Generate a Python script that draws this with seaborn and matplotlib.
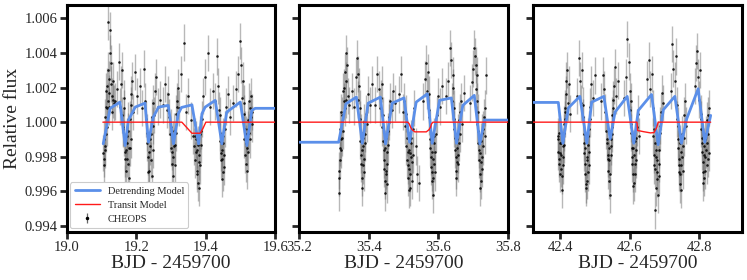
import matplotlib
matplotlib.use("Agg")
import matplotlib.pyplot as plt
import numpy as np
import pandas as pd
import seaborn as sns
from matplotlib.ticker import FormatStrFormatter
from matplotlib.lines import Line2D

# ---------------- data ----------------
# Panel 1 : CHEOPS visit 1
t1 = [19.105, 19.107, 19.108, 19.110, 19.111, 19.113, 19.114, 19.116, 19.117, 19.119, 19.120, 19.122, 19.123, 19.125, 19.127, 19.129, 19.131, 19.133, 19.136,
      19.140, 19.146, 19.150, 19.153, 19.156, 19.158, 19.160, 19.162, 19.164, 19.166, 19.168, 19.170, 19.172, 19.174, 19.176, 19.178, 19.180, 19.182, 19.184, 19.186, 19.188, 19.192, 19.197,
      19.203, 19.210, 19.216, 19.222, 19.226, 19.229, 19.232, 19.235, 19.237, 19.239, 19.241, 19.243, 19.245, 19.247, 19.249, 19.251, 19.254, 19.258, 19.262, 19.268,
      19.276, 19.282, 19.288, 19.292, 19.295, 19.298, 19.301, 19.303, 19.305, 19.307, 19.309, 19.311, 19.313, 19.316, 19.319, 19.323, 19.330, 19.336,
      19.342, 19.350, 19.357, 19.362, 19.366, 19.369, 19.372, 19.374, 19.376, 19.378, 19.380, 19.382, 19.384, 19.386, 19.389, 19.393, 19.398, 19.405, 19.412, 19.420,
      19.426, 19.431, 19.435, 19.438, 19.441, 19.443, 19.445, 19.447, 19.449, 19.451, 19.454, 19.458, 19.463, 19.470, 19.478,
      19.486, 19.492, 19.497, 19.501, 19.504, 19.507, 19.510, 19.512, 19.514, 19.516, 19.518, 19.520, 19.522, 19.524, 19.526, 19.528, 19.530, 19.532, 19.534,
      19.106, 19.109, 19.112, 19.115, 19.118, 19.121, 19.124, 19.128, 19.132,
      19.163, 19.165, 19.167, 19.169, 19.171, 19.173, 19.175, 19.177, 19.181, 19.185,
      19.231, 19.234, 19.236, 19.238, 19.240, 19.244, 19.248,
      19.300, 19.304, 19.306, 19.308, 19.310, 19.314, 19.318,
      19.370, 19.373, 19.375, 19.377, 19.379, 19.381, 19.385,
      19.440, 19.442, 19.444, 19.446, 19.448, 19.450, 19.452,
      19.509, 19.511, 19.513, 19.515, 19.517, 19.519, 19.521, 19.525, 19.529]
f1 = [0.9982, 0.9979, 0.9990, 0.9984, 1.0003, 0.9993, 1.0018, 1.0008, 1.0021, 1.0012, 1.0058, 1.0017, 1.0009, 1.0053, 1.0034, 1.0015, 1.0006, 1.0024, 1.0011,
      1.0012, 1.0019, 1.0035, 1.0009, 1.0022, 1.0030, 1.0004, 0.9996, 1.0014, 0.9991, 0.9983, 0.9972, 0.9988, 0.9979, 0.9995, 0.9985, 0.9968, 1.0002, 0.9990, 1.0010, 1.0024, 1.0006, 1.0029,
      1.0015, 1.0021, 1.0008, 1.0031, 1.0012, 1.0002, 0.9994, 0.9980, 0.9972, 0.9986, 0.9978, 0.9993, 0.9969, 0.9998, 1.0011, 1.0004, 1.0018, 1.0026, 1.0009, 1.0013,
      1.0010, 1.0022, 1.0007, 1.0016, 1.0003, 0.9993, 0.9985, 0.9976, 0.9990, 0.9980, 0.9995, 0.9987, 1.0005, 1.0012, 1.0020, 1.0008, 1.0028, 1.0046,
      1.0006, 1.0015, 1.0001, 0.9992, 0.9986, 0.9978, 0.9990, 0.9972, 0.9984, 0.9965, 0.9981, 0.9975, 0.9993, 0.9987, 1.0002, 1.0015, 1.0026, 1.0040, 1.0009, 1.0018,
      1.0012, 1.0038, 1.0021, 1.0007, 0.9994, 0.9982, 0.9967, 0.9979, 0.9988, 0.9974, 0.9996, 1.0009, 1.0016, 1.0003, 1.0011,
      1.0019, 1.0028, 1.0047, 1.0033, 1.0014, 1.0024, 1.0005, 0.9996, 0.9988, 0.9976, 0.9992, 0.9983, 1.0001, 0.9994, 1.0008, 0.9990, 1.0015, 0.9999, 1.0006,
      0.9975, 0.9986, 1.0009, 0.9997, 1.0030, 1.0025, 1.0040, 1.0022, 1.0013,
      0.9997, 1.0008, 0.9979, 0.9965, 0.9984, 0.9992, 0.9976, 1.0001, 0.9985, 1.0016,
      0.9988, 0.9971, 0.9983, 0.9963, 0.9990, 1.0003, 0.9984,
      0.9997, 0.9983, 0.9969, 0.9986, 0.9975, 0.9994, 1.0009,
      0.9992, 0.9983, 0.9970, 0.9987, 0.9977, 0.9962, 0.9995,
      1.0004, 0.9989, 0.9978, 0.9984, 0.9971, 0.9992, 0.9981,
      1.0011, 0.9990, 0.9981, 0.9993, 0.9985, 0.9972, 0.9996, 1.0012, 1.0003]

# Panel 2 : CHEOPS visit 2
t2 = [35.313, 35.315, 35.317, 35.319, 35.321, 35.323, 35.325, 35.327, 35.329, 35.331, 35.333, 35.335, 35.337, 35.340, 35.344,
      35.352, 35.358, 35.363, 35.367, 35.370, 35.372, 35.374, 35.376, 35.378, 35.380, 35.382, 35.384, 35.386, 35.388, 35.391, 35.394, 35.398, 35.403, 35.409,
      35.418, 35.424, 35.429, 35.433, 35.436, 35.439, 35.441, 35.443, 35.445, 35.447, 35.449, 35.451, 35.453, 35.455, 35.458, 35.461, 35.465, 35.470, 35.476,
      35.487, 35.493, 35.498, 35.502, 35.505, 35.508, 35.510, 35.512, 35.514, 35.516, 35.518, 35.520, 35.522, 35.524, 35.527, 35.530, 35.534, 35.539, 35.544,
      35.555, 35.560, 35.564, 35.567, 35.570, 35.573, 35.575, 35.577, 35.579, 35.581, 35.583, 35.585, 35.587, 35.589, 35.592, 35.595, 35.599, 35.604, 35.610,
      35.622, 35.628, 35.633, 35.637, 35.640, 35.643, 35.645, 35.647, 35.649, 35.651, 35.653, 35.655, 35.657, 35.659, 35.662, 35.665, 35.669, 35.674,
      35.690, 35.695, 35.699, 35.703, 35.706, 35.709, 35.711, 35.713, 35.715, 35.717, 35.719, 35.721, 35.723, 35.725, 35.727, 35.729, 35.731, 35.733, 35.735, 35.737,
      35.314, 35.316, 35.318, 35.320, 35.322, 35.326, 35.330, 35.334,
      35.369, 35.373, 35.375, 35.377, 35.379, 35.381, 35.383, 35.385, 35.387, 35.390,
      35.437, 35.440, 35.442, 35.444, 35.446, 35.448, 35.450, 35.452, 35.454, 35.457,
      35.507, 35.509, 35.511, 35.513, 35.515, 35.517, 35.519, 35.521, 35.523, 35.526,
      35.572, 35.574, 35.576, 35.578, 35.580, 35.582, 35.584, 35.586, 35.588, 35.591,
      35.641, 35.644, 35.646, 35.648, 35.650, 35.652, 35.654, 35.656, 35.658, 35.661,
      35.707, 35.710, 35.712, 35.714, 35.716, 35.718, 35.720, 35.722, 35.724, 35.726]
f2 = [0.9959, 0.9968, 0.9978, 0.9990, 0.9984, 1.0004, 0.9995, 1.0012, 1.0020, 1.0008, 1.0024, 1.0040, 1.0033, 1.0015, 1.0010,
      1.0018, 1.0009, 1.0026, 1.0037, 1.0013, 1.0021, 1.0002, 0.9994, 0.9981, 0.9968, 0.9975, 0.9986, 0.9971, 0.9993, 1.0005, 0.9999, 1.0016, 1.0010, 1.0022,
      1.0010, 1.0028, 1.0019, 1.0008, 1.0014, 0.9997, 0.9989, 0.9978, 0.9966, 0.9959, 0.9972, 0.9983, 0.9976, 0.9995, 1.0003, 1.0012, 1.0007, 1.0018, 1.0011,
      1.0016, 1.0028, 1.0006, 1.0012, 0.9998, 0.9986, 0.9978, 0.9968, 0.9984, 0.9973, 0.9962, 0.9980, 0.9991, 0.9977, 0.9996, 1.0008, 0.9986, 0.9970, 0.9965,
      1.0012, 1.0025, 1.0034, 1.0018, 1.0029, 1.0007, 0.9996, 0.9985, 0.9974, 0.9966, 0.9958, 0.9979, 0.9988, 0.9971, 0.9993, 1.0004, 1.0015, 1.0009, 1.0021,
      1.0015, 1.0024, 1.0043, 1.0036, 1.0012, 1.0027, 1.0002, 0.9991, 0.9980, 0.9972, 0.9985, 0.9976, 0.9994, 0.9988, 1.0006, 1.0012, 0.9999, 1.0017,
      1.0011, 1.0023, 1.0031, 1.0043, 1.0038, 1.0019, 1.0027, 1.0006, 0.9995, 0.9984, 0.9962, 0.9977, 0.9989, 0.9973, 0.9996, 0.9986, 1.0003, 0.9992, 1.0008, 1.0027,
      0.9972, 0.9985, 0.9996, 1.0006, 0.9991, 1.0018, 1.0029, 1.0013,
      1.0028, 1.0008, 0.9989, 0.9976, 0.9962, 0.9984, 0.9991, 0.9979, 1.0000, 0.9988,
      1.0022, 1.0004, 0.9984, 0.9973, 0.9985, 0.9970, 0.9991, 0.9964, 0.9987, 1.0000,
      1.0005, 0.9991, 0.9983, 0.9975, 0.9961, 0.9982, 0.9970, 0.9988, 0.9966, 0.9981,
      1.0016, 1.0003, 0.9990, 0.9980, 0.9971, 0.9983, 0.9968, 0.9976, 0.9992, 0.9983,
      1.0020, 1.0008, 0.9996, 0.9984, 0.9968, 0.9977, 0.9990, 0.9981, 1.0001, 0.9993,
      1.0033, 1.0012, 0.9999, 0.9988, 0.9978, 0.9970, 0.9982, 0.9966, 0.9994, 0.9980]

# Panel 3 : CHEOPS visit 3
t3 = [42.393, 42.395, 42.397, 42.399, 42.401, 42.403, 42.405, 42.407, 42.409, 42.411, 42.413, 42.415, 42.417, 42.419, 42.422, 42.425, 42.429,
      42.448, 42.453, 42.457, 42.460, 42.463, 42.466, 42.468, 42.470, 42.472, 42.474, 42.476, 42.478, 42.480, 42.482, 42.484, 42.487, 42.490, 42.494, 42.499,
      42.517, 42.522, 42.526, 42.529, 42.532, 42.535, 42.537, 42.539, 42.541, 42.543, 42.545, 42.547, 42.549, 42.551, 42.554, 42.557, 42.561, 42.566,
      42.584, 42.589, 42.593, 42.597, 42.600, 42.602, 42.604, 42.606, 42.608, 42.610, 42.612, 42.614, 42.616, 42.618, 42.621, 42.624, 42.628,
      42.650, 42.655, 42.659, 42.663, 42.666, 42.668, 42.670, 42.672, 42.674, 42.676, 42.678, 42.680, 42.682, 42.684, 42.686, 42.689, 42.692, 42.696,
      42.718, 42.722, 42.726, 42.729, 42.732, 42.735, 42.737, 42.739, 42.741, 42.743, 42.745, 42.747, 42.749, 42.751, 42.753, 42.756, 42.759, 42.763,
      42.787, 42.791, 42.794, 42.797, 42.800, 42.802, 42.804, 42.806, 42.808, 42.810, 42.812, 42.814, 42.816, 42.818, 42.820, 42.822, 42.824, 42.826, 42.828,
      42.394, 42.396, 42.398, 42.400, 42.402, 42.404, 42.406, 42.408, 42.410, 42.412, 42.414, 42.418,
      42.467, 42.469, 42.471, 42.473, 42.475, 42.477, 42.479, 42.481, 42.483, 42.486,
      42.536, 42.538, 42.540, 42.542, 42.544, 42.546, 42.548, 42.550, 42.553,
      42.603, 42.605, 42.607, 42.609, 42.611, 42.613, 42.615, 42.617, 42.619,
      42.669, 42.671, 42.673, 42.675, 42.677, 42.679, 42.681, 42.683, 42.685, 42.688,
      42.738, 42.740, 42.742, 42.744, 42.746, 42.748, 42.750, 42.752, 42.755,
      42.805, 42.807, 42.809, 42.811, 42.813, 42.815, 42.817, 42.819, 42.821, 42.823, 42.825, 42.827]
f3 = [0.9983, 0.9992, 0.9976, 0.9988, 0.9970, 0.9981, 0.9961, 0.9975, 0.9986, 0.9994, 1.0008, 1.0002, 1.0016, 1.0030, 1.0011, 1.0022, 1.0005,
      1.0015, 1.0037, 1.0024, 1.0011, 1.0030, 1.0003, 0.9993, 0.9982, 0.9970, 0.9962, 0.9978, 0.9966, 0.9987, 0.9975, 0.9996, 1.0009, 1.0022, 1.0014, 1.0027,
      1.0012, 1.0027, 1.0019, 1.0006, 0.9995, 0.9988, 0.9979, 0.9972, 0.9985, 0.9958, 0.9990, 0.9981, 0.9997, 1.0008, 1.0021, 1.0032, 1.0015, 1.0024,
      1.0014, 1.0026, 1.0048, 1.0035, 1.0018, 1.0007, 0.9994, 0.9985, 0.9976, 0.9963, 0.9981, 0.9970, 0.9989, 0.9978, 0.9997, 1.0005, 0.9992,
      1.0025, 1.0036, 1.0019, 1.0028, 1.0008, 0.9992, 0.9981, 0.9949, 0.9973, 0.9984, 0.9967, 0.9978, 0.9990, 0.9976, 0.9998, 1.0006, 1.0017, 1.0011,
      1.0018, 1.0045, 1.0031, 1.0024, 1.0038, 1.0010, 1.0002, 0.9990, 0.9979, 0.9971, 0.9964, 0.9983, 0.9975, 0.9993, 0.9986, 1.0004, 1.0012, 0.9998,
      1.0021, 1.0034, 1.0041, 1.0026, 1.0013, 1.0030, 1.0005, 0.9996, 0.9988, 0.9977, 0.9965, 0.9981, 0.9972, 0.9990, 0.9984, 1.0001, 0.9979, 0.9993, 1.0008,
      0.9990, 0.9979, 0.9994, 0.9982, 0.9973, 0.9988, 0.9969, 0.9980, 0.9999, 0.9987, 1.0006, 1.0024,
      1.0010, 0.9988, 0.9976, 0.9985, 0.9964, 0.9980, 0.9971, 0.9992, 0.9983, 1.0002,
      0.9990, 0.9981, 0.9966, 0.9978, 0.9970, 0.9986, 0.9993, 1.0004, 1.0013,
      1.0012, 0.9999, 0.9980, 0.9970, 0.9985, 0.9965, 0.9976, 0.9984, 0.9991,
      0.9996, 0.9975, 0.9988, 0.9962, 0.9980, 0.9971, 0.9958, 0.9984, 0.9969, 0.9994,
      0.9998, 0.9985, 0.9975, 0.9988, 0.9970, 0.9961, 0.9980, 0.9972, 0.9991,
      1.0002, 0.9991, 0.9983, 0.9971, 0.9986, 0.9968, 0.9980, 0.9993, 0.9975, 0.9988, 1.0004, 0.9982]

flux_err = [0.00105, 0.00105, 0.00105]

# Detrending model (knots)
bx1 = [19.105, 19.125, 19.153, 19.168, 19.177, 19.197, 19.225, 19.235, 19.249, 19.264, 19.292, 19.307, 19.321, 19.330, 19.360, 19.379,
       19.389, 19.398, 19.427, 19.446, 19.460, 19.499, 19.518, 19.532, 19.542, 19.600]
by1 = [0.99875, 1.00080, 1.00116, 0.99865, 1.00010, 1.00087, 1.00110, 0.99884, 1.00030, 1.00087, 1.00097, 0.99875, 1.00050, 1.00085, 1.00100, 0.99875,
       1.00050, 1.00087, 1.00126, 0.99875, 1.00058, 1.00116, 0.99865, 1.00068, 1.00080, 1.00080]
bx2 = [35.200, 35.313, 35.334, 35.364, 35.381, 35.398, 35.433, 35.448, 35.467, 35.501, 35.517, 35.536, 35.568, 35.582,
       35.603, 35.637, 35.652, 35.670, 35.703, 35.719, 35.732, 35.800]
by2 = [0.99884, 0.99884, 1.00106, 1.00145, 0.99878, 1.00110, 1.00145, 0.99874, 1.00110, 1.00140, 0.99884, 1.00116, 1.00164, 0.99878,
       1.00126, 1.00140, 0.99878, 1.00097, 1.00155, 0.99874, 1.00012, 1.00012]
bx3 = [42.323, 42.395, 42.408, 42.424, 42.457, 42.477, 42.491, 42.526, 42.544, 42.558, 42.593, 42.612, 42.625, 42.663,
       42.682, 42.697, 42.730, 42.749, 42.764, 42.797, 42.816, 42.833]
by3 = [1.00114, 1.00114, 0.99878, 1.00083, 1.00149, 0.99878, 1.00116, 1.00149, 0.99903, 1.00058, 1.00149, 0.99878, 1.00068, 1.00160,
       0.99870, 1.00072, 1.00149, 0.99878, 1.00019, 1.00193, 0.99884, 1.00039]

# Transit model (knots)
rx1 = [19.104, 19.331, 19.360, 19.384, 19.392, 19.400, 19.600]
ry1 = [1.0, 1.0, 0.99936, 0.99936, 0.99965, 1.0, 1.0]
rx2 = [35.200, 35.512, 35.516, 35.520, 35.525, 35.532, 35.565, 35.572, 35.577, 35.580, 35.584, 35.800]
ry2 = [1.0, 1.0, 0.9999, 0.9997, 0.99955, 0.99944, 0.99944, 0.99955, 0.9997, 0.9999, 1.0, 1.0]
rx3 = [42.323, 42.621, 42.623, 42.640, 42.660, 42.670, 42.678, 42.682, 42.833]
ry3 = [1.0, 1.0, 0.99952, 0.99945, 0.99938, 0.99940, 0.99970, 1.0, 1.0]

xlims = [(19.0, 19.6), (35.2, 35.8), (42.323, 42.923)]
xticks = [[19.0, 19.2, 19.4, 19.6], [35.2, 35.4, 35.6, 35.8], [42.4, 42.6, 42.8]]
yticks = [0.994, 0.996, 0.998, 1.000, 1.002, 1.004, 1.006]
ylim = (0.99367, 1.00677)

# ---------------- style ----------------
sns.set_style("ticks")
plt.rcParams["font.family"] = ["Liberation Serif", "DejaVu Serif"]
plt.rcParams["mathtext.fontset"] = "stix"

BLUE = "#5b8fe9"
RED = "#ff1a1a"

fig = plt.figure(figsize=(7.47, 2.8), dpi=100)
lefts = [0.0893, 0.4007, 0.7139]
axes = [fig.add_axes([l, 0.1725, 0.2794, 0.8096]) for l in lefts]

panels = [(t1, f1, bx1, by1, rx1, ry1), (t2, f2, bx2, by2, rx2, ry2), (t3, f3, bx3, by3, rx3, ry3)]

for i, (ax, (t, f, bx, by, rx, ry)) in enumerate(zip(axes, panels)):
    assert len(t) == len(f)
    d = pd.DataFrame({"t": t, "f": f})
    ax.errorbar(d["t"], d["f"], yerr=flux_err[i], fmt="none", ecolor="0.45",
                elinewidth=1.0, alpha=0.5, zorder=1)
    sns.scatterplot(data=d, x="t", y="f", ax=ax, color="k", s=3.5, marker="o",
                    linewidth=0, alpha=0.85, zorder=2, legend=False)
    sns.lineplot(x=bx, y=by, ax=ax, color=BLUE, lw=2.0, sort=False,
                 estimator=None, zorder=3, legend=False)
    sns.lineplot(x=rx, y=ry, ax=ax, color=RED, lw=1.0, sort=False,
                 estimator=None, zorder=4, legend=False)

    ax.set_xlim(*xlims[i])
    ax.set_ylim(*ylim)
    ax.set_xticks(xticks[i])
    ax.set_yticks(yticks)
    ax.xaxis.set_major_formatter(FormatStrFormatter("%.1f"))
    ax.yaxis.set_major_formatter(FormatStrFormatter("%.3f"))
    ax.tick_params(direction="out", length=5, width=2.0, labelsize=10.5, pad=1.5)
    for s in ax.spines.values():
        s.set_linewidth(2.2)
        s.set_color("k")
    ax.set_xlabel("BJD - 2459700", fontsize=14, labelpad=1)
    if i == 0:
        ax.set_ylabel("Relative flux", fontsize=14, labelpad=3)
    else:
        ax.set_ylabel("")
        ax.tick_params(axis="y", labelleft=False)

handles = [
    Line2D([], [], color=BLUE, lw=2.0),
    Line2D([], [], color=RED, lw=1.0),
    axes[0].errorbar([], [], yerr=[], fmt=".", color="k", ecolor="0.4",
                     markersize=3, elinewidth=0.9),
]
leg = axes[0].legend(handles, ["Detrending Model", "Transit Model", "CHEOPS"],
                     loc="lower left", fontsize=7.5, frameon=True, fancybox=True,
                     edgecolor="#cccccc", framealpha=1.0, handlelength=2.4,
                     borderaxespad=0.35, labelspacing=0.45)
leg.get_frame().set_linewidth(0.8)

fig.savefig("out.png", dpi=100)
